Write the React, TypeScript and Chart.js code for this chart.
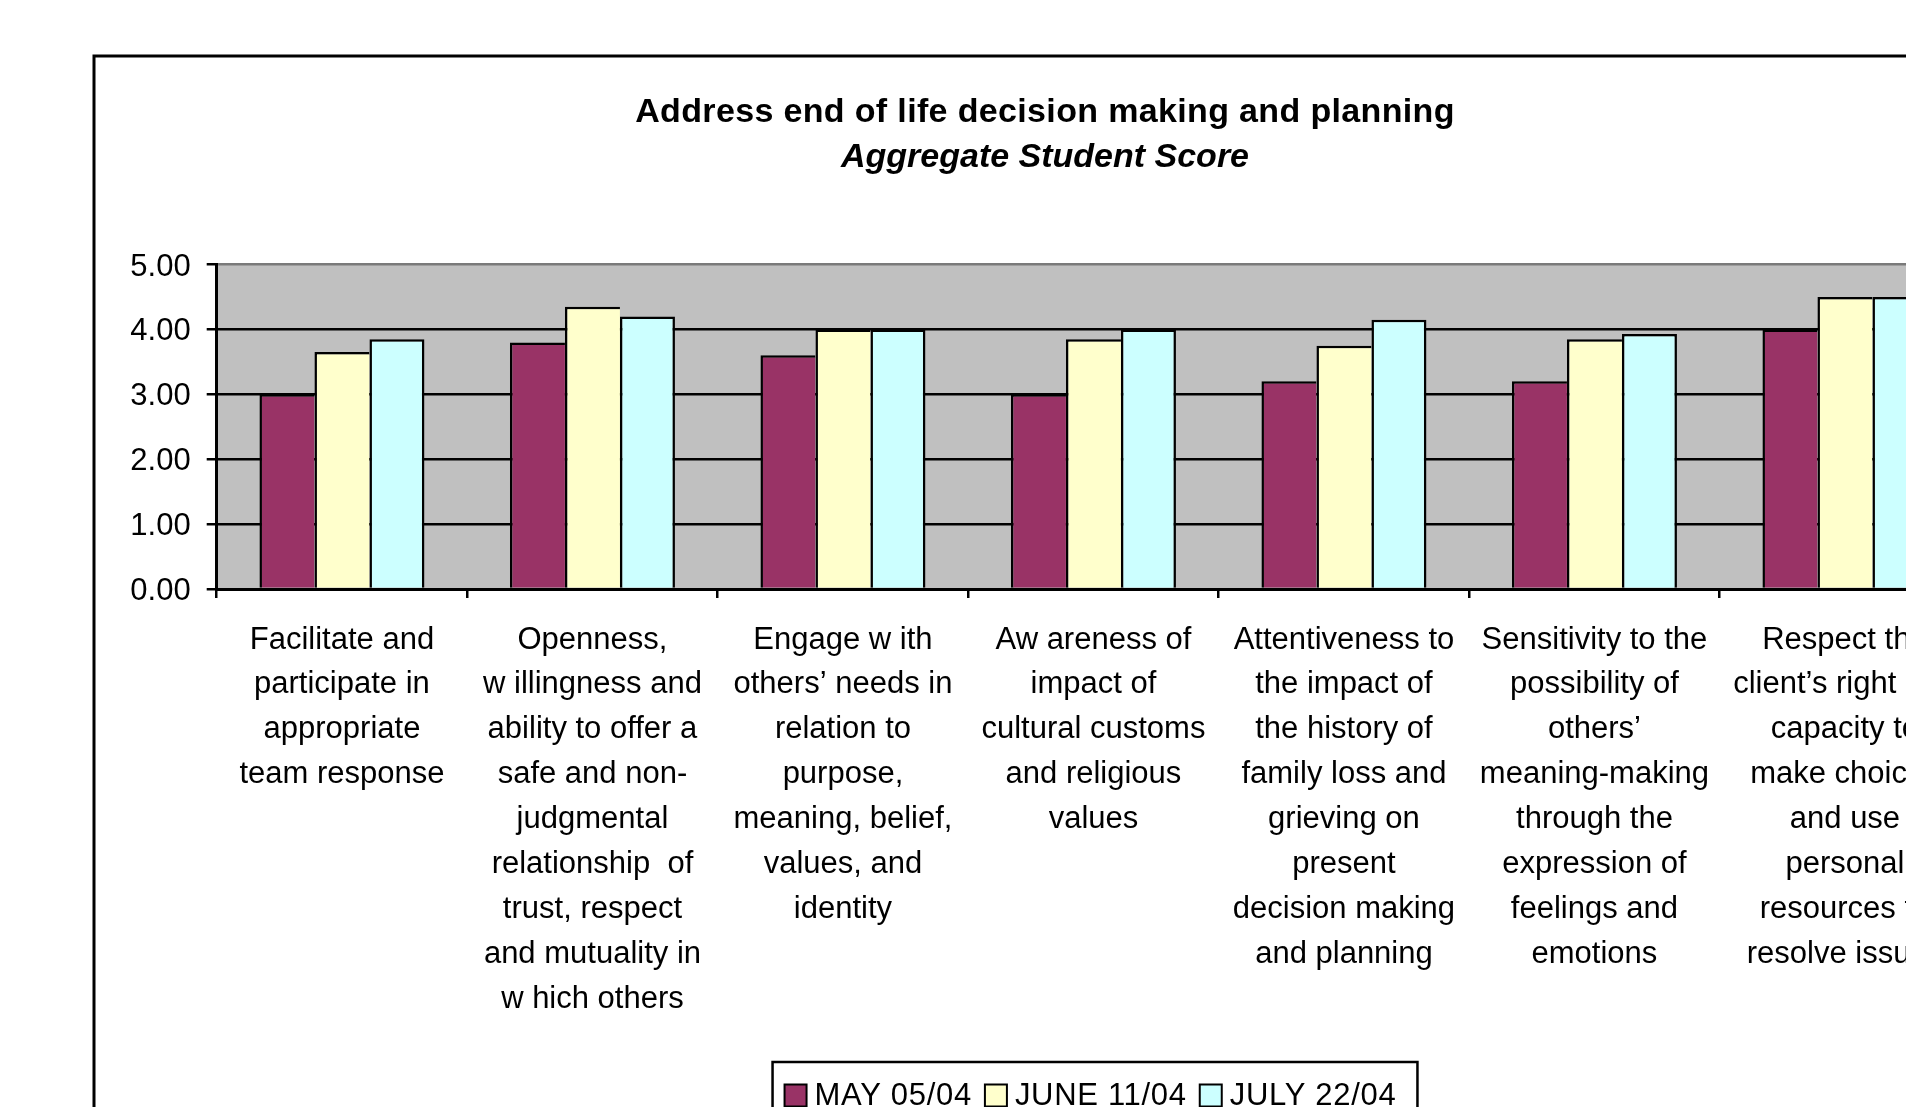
import React, { useEffect, useRef } from "react";
import { Chart, registerables } from "chart.js";

Chart.register(...registerables);

// ---------- data ----------
const titleText = "Address end of life decision making and planning";
const subtitleText = "Aggregate Student Score";

const categories: string[][] = [
  ["Facilitate and", "participate in", "appropriate", "team response"],
  [
    "Openness,",
    "w illingness and",
    "ability to offer a",
    "safe and non-",
    "judgmental",
    "relationship  of",
    "trust, respect",
    "and mutuality in",
    "w hich others",
  ],
  [
    "Engage w ith",
    "others’ needs in",
    "relation to",
    "purpose,",
    "meaning, belief,",
    "values, and",
    "identity",
  ],
  ["Aw areness of", "impact of", "cultural customs", "and religious", "values"],
  [
    "Attentiveness to",
    "the impact of",
    "the history of",
    "family loss and",
    "grieving on",
    "present",
    "decision making",
    "and planning",
  ],
  [
    "Sensitivity to the",
    "possibility of",
    "others’",
    "meaning-making",
    "through the",
    "expression of",
    "feelings and",
    "emotions",
  ],
  [
    "Respect the",
    "client’s right and",
    "capacity to",
    "make choices",
    "and use",
    "personal",
    "resources to",
    "resolve issues",
  ],
];

const seriesNames = ["MAY 05/04", "JUNE 11/04", "JULY 22/04"];
const mayValues = [3.0, 3.8, 3.6, 3.0, 3.2, 3.2, 4.0];
const juneValues = [3.65, 4.35, 4.0, 3.85, 3.75, 3.85, 4.5];
const julyValues = [3.85, 4.2, 4.0, 4.0, 4.15, 3.93, 4.5];
const yTickLabels = ["0.00", "1.00", "2.00", "3.00", "4.00", "5.00"];

// ---------- layout / style ----------
const W = 2120;
const H = 1107;
const FONT = "'Liberation Sans', Arial, Helvetica, sans-serif";
const PLOT_LEFT = 216.7;
const PLOT_TOP = 264.5;
const PLOT_BOTTOM = 589;
const CAT_W = 250.5;
const PLOT_RIGHT = PLOT_LEFT + CAT_W * categories.length;
const Y_AXIS_W = 120;
const X_AXIS_H = 470;

const decorPlugin = {
  id: "decor",
  beforeDraw(chart: any) {
    const { ctx, chartArea } = chart;
    ctx.save();
    ctx.fillStyle = "#ffffff";
    ctx.fillRect(0, 0, chart.width, chart.height);
    // outer chart frame
    ctx.strokeStyle = "#000";
    ctx.lineWidth = 3;
    ctx.strokeRect(94, 56, 1994, 1200);
    // plot area background
    ctx.fillStyle = "#C0C0C0";
    ctx.fillRect(
      chartArea.left,
      chartArea.top,
      chartArea.right - chartArea.left,
      chartArea.bottom - chartArea.top
    );
    ctx.restore();
  },
  afterDraw(chart: any) {
    const { ctx } = chart;
    ctx.save();
    ctx.fillStyle = "#000";
    ctx.textAlign = "center";
    ctx.textBaseline = "middle";
    ctx.font = `bold 34px ${FONT}`;
    (ctx as any).letterSpacing = "0.35px";
    ctx.fillText(titleText, 1045, 112.5);
    (ctx as any).letterSpacing = "0px";
    ctx.font = `italic bold 34px ${FONT}`;
    ctx.fillText(subtitleText, 1045, 157.5);

    // legend
    ctx.font = `31px ${FONT}`;
    (ctx as any).letterSpacing = "0.7px";
    const box = 22;
    const gap = 8;
    const itemGap = 13;
    const items = chart.data.datasets.map((ds: any) => ({
      label: ds.label as string,
      color: ds.backgroundColor as string,
      w: ctx.measureText(ds.label).width,
    }));
    const total =
      items.reduce((s: number, it: any) => s + box + gap + it.w, 0) +
      itemGap * (items.length - 1);
    const cx = 1090.5;
    const cy = 1095.5;
    let x = cx - total / 2;
    ctx.strokeStyle = "#000";
    ctx.lineWidth = 2.5;
    ctx.strokeRect(x - 12, 1062, total + 33, 200);
    ctx.textAlign = "left";
    items.forEach((it: any) => {
      ctx.fillStyle = it.color;
      ctx.fillRect(x, cy - box / 2, box, box);
      ctx.lineWidth = 2;
      ctx.strokeRect(x, cy - box / 2, box, box);
      ctx.fillStyle = "#000";
      ctx.fillText(it.label, x + box + gap, cy + 1);
      x += box + gap + it.w + itemGap;
    });
    ctx.restore();
  },
};

export default function App() {
  const canvasRef = useRef<HTMLCanvasElement | null>(null);

  useEffect(() => {
    const canvas = canvasRef.current;
    if (!canvas) return;
    const colors = ["#993366", "#FFFFCC", "#CCFFFF"];
    const values = [mayValues, juneValues, julyValues];
    const chart = new Chart(canvas, {
      type: "bar",
      data: {
        labels: categories,
        datasets: seriesNames.map((name, i) => ({
          label: name,
          data: values[i],
          backgroundColor: colors[i],
          borderColor: "#000",
          borderWidth:
            i === seriesNames.length - 1
              ? { top: 2.5, left: 2.5, right: 2.5, bottom: 0 }
              : { top: 2.5, left: 2.5, right: 0, bottom: 0 },
          borderSkipped: false,
          categoryPercentage: 165 / CAT_W,
          barPercentage: 1,
        })),
      },
      options: {
        responsive: false,
        animation: false,
        devicePixelRatio: 1,
        events: [],
        layout: {
          padding: {
            left: PLOT_LEFT - Y_AXIS_W,
            top: PLOT_TOP,
            right: W - PLOT_RIGHT,
            bottom: H - PLOT_BOTTOM - X_AXIS_H,
          },
        },
        plugins: {
          legend: { display: false },
          title: { display: false },
          tooltip: { enabled: false },
        },
        scales: {
          x: {
            grid: {
              display: true,
              drawOnChartArea: false,
              drawTicks: true,
              tickLength: 9,
              color: "#000",
              lineWidth: 2.5,
              offset: true,
            },
            border: { display: true, color: "#000", width: 3, z: 1 },
            ticks: {
              color: "#000",
              font: { family: FONT, size: 31, lineHeight: 1.45 },
              padding: 19.5,
              autoSkip: false,
              maxRotation: 0,
              minRotation: 0,
            },
            afterFit: (s: any) => {
              s.height = X_AXIS_H;
            },
          },
          y: {
            min: 0,
            max: 5,
            ticks: {
              stepSize: 1,
              color: "#000",
              font: { family: FONT, size: 31 },
              padding: 16,
              labelOffset: 2.5,
              callback: (v: any) => yTickLabels[Math.round(Number(v))],
            },
            grid: {
              color: (c: any) =>
                c.tick && c.tick.value === 5 ? "#7a7a7a" : "#000",
              tickColor: "#000",
              lineWidth: 2.5,
              tickLength: 10,
            },
            border: { display: true, color: "#000", width: 3, z: 1 },
            afterFit: (s: any) => {
              s.width = Y_AXIS_W;
            },
          },
        },
      },
      plugins: [decorPlugin],
    } as any);
    return () => chart.destroy();
  }, []);

  return (
    <div
      style={{
        position: "fixed",
        left: 0,
        top: 0,
        width: "100vw",
        height: "100vh",
        overflow: "hidden",
        background: "#fff",
      }}
    >
      <canvas
        ref={canvasRef}
        width={W}
        height={H}
        style={{ display: "block", width: W, height: H }}
      />
    </div>
  );
}
